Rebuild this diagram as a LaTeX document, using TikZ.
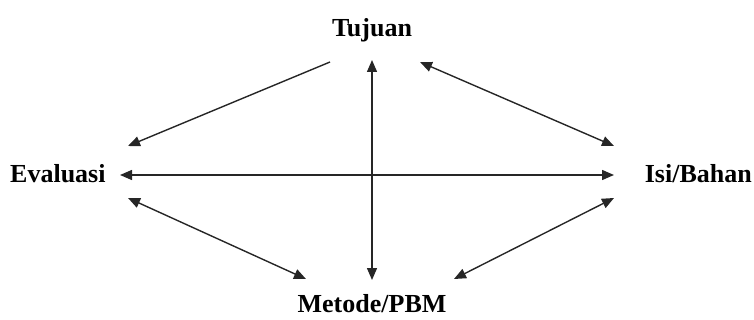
\documentclass[tikz,border=0pt]{standalone}
\usepackage{fontspec}
\setmainfont{Liberation Serif}
\usetikzlibrary{arrows.meta}
\begin{document}
\begin{tikzpicture}[x=1pt,y=-1pt,
  lbl/.style={font=\fontsize{26}{29}\selectfont\bfseries, inner sep=0pt},
  conn/.style={line width=1.4pt, draw=black!85, {Triangle[length=12pt,width=10pt]}-{Triangle[length=12pt,width=10pt]}},
  conn1/.style={line width=1.4pt, draw=black!85, -{Triangle[length=12pt,width=10pt]}}]
\useasboundingbox (0,0) rectangle (754,320);
\node[lbl] (tuj) at (372,30) {Tujuan};
\node[lbl, anchor=west] (eva) at (10,174) {Evaluasi};
\node[lbl, anchor=east] (isi) at (752,174) {Isi/Bahan};
\node[lbl] (met) at (372,304) {Metode/PBM};
\coordinate (tv) at (372,60);
\coordinate (mv) at (372,280);
\coordinate (el) at (120,175);
\coordinate (ir) at (614,175);
\coordinate (tl) at (330,62);
\coordinate (eu) at (128,146);
\coordinate (tr) at (420,62);
\coordinate (iu) at (614,146);
\coordinate (ed) at (128,198);
\coordinate (ml) at (306,279);
\coordinate (id) at (614,198);
\coordinate (mr) at (454,279);
\draw[conn] (tv) -- (mv);
\draw[conn] (el) -- (ir);
\draw[conn1] (tl) -- (eu);
\draw[conn] (tr) -- (iu);
\draw[conn] (ed) -- (ml);
\draw[conn] (id) -- (mr);
\end{tikzpicture}
\end{document}
